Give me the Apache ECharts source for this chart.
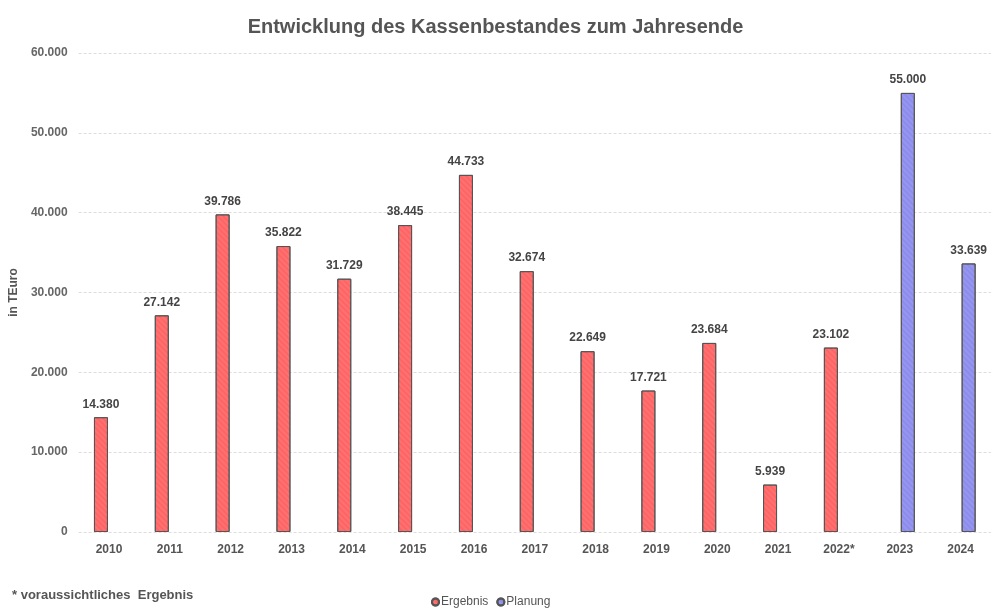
<!DOCTYPE html>
<html>
<head>
<meta charset="utf-8">
<script src="https://cdn.jsdelivr.net/npm/echarts@6/dist/echarts.min.js"></script>
<style>
  html, body { margin: 0; padding: 0; background: #fff; }
  #main { width: 991px; height: 610px; }
</style>
</head>
<body>
<div id="main"></div>
<script>
// Kassenbestand zum Jahresende in TEuro
var years = ['2010', '2011', '2012', '2013', '2014', '2015', '2016', '2017', '2018', '2019', '2020', '2021', '2022*', '2023', '2024']
var ergebnis = [14380, 27142, 39786, 35822, 31729, 38445, 44733, 32674, 22649, 17721, 23684, 5939, 23102, null, null]
var planung = [null, null, null, null, null, null, null, null, null, null, null, null, null, 55000, 33639]

function fmt(v) {
  return String(v).replace(/\B(?=(\d{3})+(?!\d))/g, '.')
}

var myChart = echarts.init(document.getElementById('main'))
var font = 'Liberation Sans, Arial, sans-serif'
var hatch = { symbol: 'rect', symbolSize: 0.5, dashArrayX: [1, 0], dashArrayY: [2, 2], rotation: Math.PI / 4, color: 'rgba(255,255,255,0.35)' }
var option = {
  animation: false,
  textStyle: { fontFamily: font },
  title: {
    text: 'Entwicklung des Kassenbestandes zum Jahresende',
    left: 'center',
    top: 12,
    textStyle: { fontSize: 20, fontWeight: 'bold', color: '#555', fontFamily: font }
  },
  legend: {
    top: 596,
    left: 431,
    padding: 0,
    itemWidth: 7,
    itemHeight: 7,
    itemGap: 8,
    icon: 'circle',
    textStyle: { fontSize: 12, color: '#555', padding: [0, 0, 0, -3] },
    data: ['Ergebnis', 'Planung']
  },
  graphic: [{
    type: 'text',
    left: 12,
    top: 589,
    style: { text: '* voraussichtliches  Ergebnis', font: 'bold 13px ' + font, fill: '#555' }
  }],
  grid: { left: 76, right: -2, top: 53, bottom: 78 },
  xAxis: {
    type: 'category',
    data: years,
    axisLine: { show: false },
    axisTick: { show: false },
    axisLabel: { color: '#555', fontSize: 12, fontWeight: 'bold', margin: 12 }
  },
  yAxis: {
    type: 'value',
    min: 0,
    max: 60000,
    interval: 10000,
    name: 'in TEuro',
    nameLocation: 'middle',
    nameGap: 52,
    nameTextStyle: { color: '#555', fontSize: 12, fontWeight: 'bold' },
    axisLabel: { color: '#666', fontSize: 12, fontWeight: 'bold', margin: 11, formatter: fmt },
    splitLine: { lineStyle: { color: '#ddd', type: [3, 2] } }
  },
  series: [
    {
      name: 'Ergebnis',
      type: 'bar',
      data: ergebnis,
      barWidth: 14,
      barGap: '15%',
      itemStyle: { color: '#ff6464', borderColor: '#555', borderWidth: 1, decal: hatch },
      label: {
        show: true,
        position: 'top',
        distance: 7,
        color: '#444',
        fontSize: 12,
        fontWeight: 'bold',
        formatter: function (p) { return fmt(p.value) }
      }
    },
    {
      name: 'Planung',
      type: 'bar',
      data: planung,
      barWidth: 14,
      itemStyle: { color: '#8c8cec', borderColor: '#555', borderWidth: 1, decal: hatch },
      label: {
        show: true,
        position: 'top',
        distance: 7,
        color: '#444',
        fontSize: 12,
        fontWeight: 'bold',
        formatter: function (p) { return fmt(p.value) }
      }
    }
  ]
}
myChart.setOption(option)
</script>
</body>
</html>
